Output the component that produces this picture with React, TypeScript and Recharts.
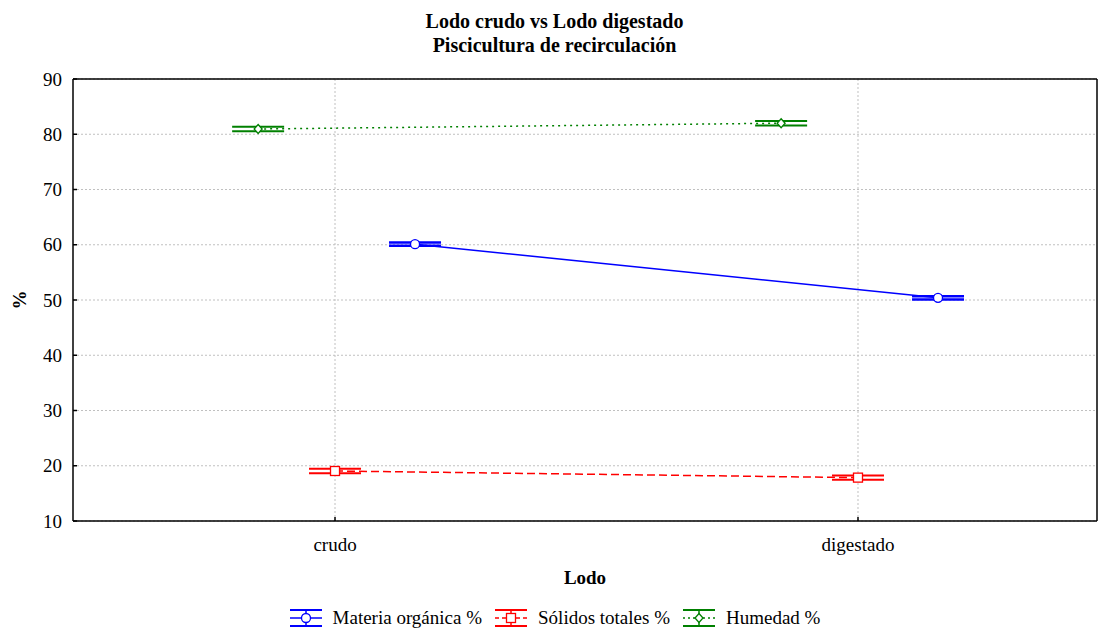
import React from "react";
import {
  LineChart, Line, XAxis, YAxis, CartesianGrid, ErrorBar, ReferenceLine,
} from "recharts";

const categories = ["crudo", "digestado"];
const materia = [60.1, 50.4];
const materiaErr = [0.3, 0.3];
const solidos = [19.05, 17.85];
const solidosErr = [0.4, 0.4];
const humedad = [80.95, 82.0];
const humedadErr = [0.4, 0.4];
const yTicks = [10, 20, 30, 40, 50, 60, 70, 80, 90];

const FONT = "'Liberation Serif', 'Times New Roman', serif";
const W = 1109;
const H = 631;
const X_MIN = -0.501;
const X_MAX = 1.457;

const BLUE = "#0000ff";
const RED = "#ff0000";
const GREEN = "#008000";

const build = (vals: number[], errs: number[], off: number) =>
  categories.map((c, i) => ({ x: i + off, y: vals[i], err: errs[i], name: c }));

const materiaData = build(materia, materiaErr, 0.153);
const solidosData = build(solidos, solidosErr, 0);
const humedadData = build(humedad, humedadErr, -0.147);

type Shape = "circle" | "square" | "diamond";

function marker(shape: Shape, color: string, cx: number, cy: number, key?: any) {
  if (shape === "circle")
    return <circle key={key} cx={cx} cy={cy} r={4.5} fill="#fff" stroke={color} strokeWidth={1.3} />;
  if (shape === "square")
    return <rect key={key} x={cx - 4.5} y={cy - 4.5} width={9} height={9} fill="#fff" stroke={color} strokeWidth={1.3} />;
  return (
    <path key={key} d={`M${cx},${cy - 4.5}L${cx + 4},${cy}L${cx},${cy + 4.5}L${cx - 4},${cy}Z`}
      fill="#fff" stroke={color} strokeWidth={1.3} />
  );
}

const dotFor = (shape: Shape, color: string) => (p: any) =>
  marker(shape, color, p.cx, p.cy, `${shape}-${p.index}`);

const LEGEND = [
  { label: "Materia orgánica %", color: BLUE, shape: "circle" as Shape, dash: undefined },
  { label: "Sólidos totales %", color: RED, shape: "square" as Shape, dash: "4 3" },
  { label: "Humedad %", color: GREEN, shape: "diamond" as Shape, dash: "2 3" },
];

function LegendIcon({ color, shape, dash }: { color: string; shape: Shape; dash?: string }) {
  return (
    <svg width={34} height={22} style={{ marginRight: 10 }}>
      <line x1={1} y1={3} x2={33} y2={3} stroke={color} strokeWidth={2} />
      <line x1={1} y1={19} x2={33} y2={19} stroke={color} strokeWidth={2} />
      <line x1={17} y1={3} x2={17} y2={19} stroke={color} strokeWidth={1.5} />
      <line x1={1} y1={11} x2={33} y2={11} stroke={color} strokeWidth={1.5} strokeDasharray={dash} />
      {marker(shape, color, 17, 11)}
    </svg>
  );
}

export default function App() {
  return (
    <div style={{ position: "absolute", left: 0, top: 0, width: W, height: H, background: "#fff", fontFamily: FONT }}>
      <div style={{ position: "absolute", top: 9, left: 0, width: W, textAlign: "center", fontWeight: "bold", fontSize: 20, lineHeight: "24px", color: "#000" }}>
        <div>Lodo crudo vs Lodo digestado</div>
        <div>Piscicultura de recirculación</div>
      </div>
      <LineChart
        width={W}
        height={H}
        margin={{ top: 79, right: 12, bottom: 0, left: 0 }}
        style={{ fontFamily: FONT }}
      >
        <CartesianGrid stroke="#c0c0c0" strokeDasharray="2 2" verticalValues={[0, 1]} />
        <XAxis
          dataKey="x"
          type="number"
          domain={[X_MIN, X_MAX]}
          ticks={[0, 1]}
          tickFormatter={(v: number) => categories[Math.round(v)]}
          height={110}
          allowDataOverflow
          stroke="#000"
          strokeWidth={1.5}
          tickSize={-4}
          tickMargin={21}
          tick={{ fill: "#000", fontSize: 19, fontFamily: FONT }}
          label={{ value: "Lodo", position: "insideTop", offset: 50, fill: "#000", fontSize: 19, fontWeight: "bold", fontFamily: FONT }}
        />
        <YAxis
          type="number"
          domain={[10, 90]}
          ticks={yTicks}
          width={73}
          allowDataOverflow
          stroke="#000"
          strokeWidth={1.5}
          tickSize={-4}
          tickMargin={15}
          tick={{ fill: "#000", fontSize: 19, fontFamily: FONT }}
        />
        <ReferenceLine y={90} stroke="#000" strokeWidth={1.5} />
        <ReferenceLine x={X_MAX} stroke="#000" strokeWidth={1.5} />
        <Line data={humedadData} dataKey="y" name="Humedad %" stroke={GREEN} strokeWidth={1.5}
          strokeDasharray="2 4" dot={dotFor("diamond", GREEN)} isAnimationActive={false}>
          <ErrorBar dataKey="err" direction="y" width={26} stroke={GREEN} strokeWidth={2} isAnimationActive={false} />
        </Line>
        <Line data={materiaData} dataKey="y" name="Materia orgánica %" stroke={BLUE} strokeWidth={1.5}
          dot={dotFor("circle", BLUE)} isAnimationActive={false}>
          <ErrorBar dataKey="err" direction="y" width={26} stroke={BLUE} strokeWidth={2.5} isAnimationActive={false} />
        </Line>
        <Line data={solidosData} dataKey="y" name="Sólidos totales %" stroke={RED} strokeWidth={1.5}
          strokeDasharray="8 4" dot={dotFor("square", RED)} isAnimationActive={false}>
          <ErrorBar dataKey="err" direction="y" width={26} stroke={RED} strokeWidth={2} isAnimationActive={false} />
        </Line>
      </LineChart>
      <div style={{ position: "absolute", left: 9, top: 290, width: 20, height: 20, display: "flex", alignItems: "center", justifyContent: "center" }}>
        <span style={{ transform: "rotate(-90deg)", fontWeight: "bold", fontSize: 19 }}>%</span>
      </div>
      <div style={{ position: "absolute", top: 607, left: 0, width: W, display: "flex", justifyContent: "center", alignItems: "center", fontSize: 19, color: "#000" }}>
        {LEGEND.map((l) => (
          <div key={l.label} style={{ display: "flex", alignItems: "center", margin: "0 6px" }}>
            <LegendIcon color={l.color} shape={l.shape} dash={l.dash} />
            <span>{l.label}</span>
          </div>
        ))}
      </div>
    </div>
  );
}
